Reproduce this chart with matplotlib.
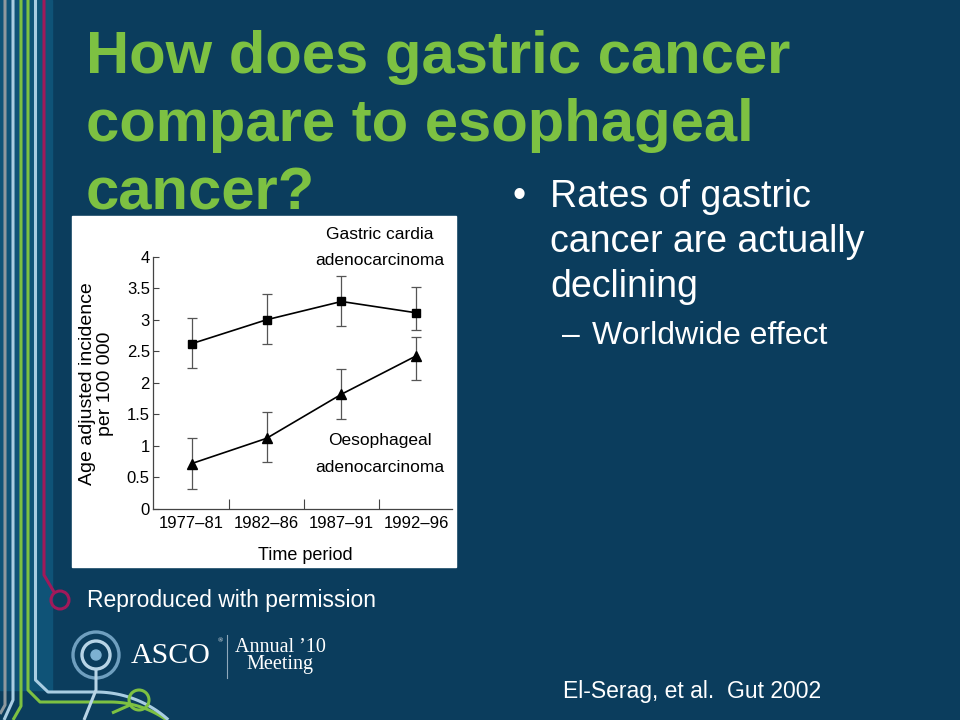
import numpy as np
import matplotlib
matplotlib.use("Agg")
import matplotlib.pyplot as plt
from matplotlib.patches import Rectangle, Circle

# data
periods = ["1977–81", "1982–86", "1987–91", "1992–96"]
gastric = [2.62, 3.00, 3.29, 3.11]
gastric_lo = [2.23, 2.61, 2.90, 2.83]
gastric_hi = [3.03, 3.41, 3.70, 3.52]
oeso = [0.72, 1.12, 1.82, 2.43]
oeso_lo = [0.32, 0.74, 1.43, 2.04]
oeso_hi = [1.12, 1.53, 2.22, 2.72]
y_ticks = [0, 0.5, 1, 1.5, 2, 2.5, 3, 3.5, 4]
y_tick_labels = ["0", "0.5", "1", "1.5", "2", "2.5", "3", "3.5", "4"]

W, H = 960, 720
BG = "#0b3d5d"
BAND = "#0f5377"
GREEN = "#7dc142"
LBLUE = "#a9cde2"
GRAY = "#8e989e"
MAGENTA = "#a0195a"

plt.rcParams["font.family"] = ["Liberation Sans", "DejaVu Sans"]

fig = plt.figure(figsize=(9.6, 7.2), dpi=100, facecolor=BG)
bg = fig.add_axes([0, 0, 1, 1])
bg.set_xlim(0, W)
bg.set_ylim(H, 0)
bg.axis("off")
bg.add_patch(Rectangle((0, 0), W, H, color=BG, zorder=0))
bg.add_patch(Rectangle((0, 0), 52, 690, color=BAND, zorder=0.5))

# left decoration
def path(pts, color, lw=2.2):
    pts = np.array(pts)
    bg.plot(pts[:, 0], pts[:, 1], color=color, lw=lw, solid_capstyle="butt", zorder=1)

def arc(cx, cy, r, a0, a1, n=30):
    t = np.radians(np.linspace(a0, a1, n))
    return list(zip(cx + r * np.cos(t), cy - r * np.sin(t)))

path([(5, 0), (5, 705), (0, 714)], GRAY)
path([(13, 0), (13, 700), (4, 720)], LBLUE)
path([(21, 0), (21, 706), (13, 720)], GREEN)
path([(28, 0), (28, 690), (40, 702)] + arc(110, 800, 98, 90, 55), GREEN)
path([(35.5, 0), (35.5, 680), (48, 692)] + arc(96, 800, 108, 90, 48), LBLUE)
path([(44, 0), (44, 575), (54, 592)], MAGENTA)
bg.add_patch(Circle((60, 600), 9, fill=False, ec=MAGENTA, lw=2.2, zorder=1))
path([(112, 713), (130, 705)], GREEN)
bg.add_patch(Circle((139, 700), 10, fill=False, ec=GREEN, lw=2.2, zorder=1))

# ASCO logo
bg.add_patch(Circle((96, 655), 23, fill=False, ec="#6f9fbf", lw=2.4, zorder=1))
bg.add_patch(Circle((96, 655), 14, fill=False, ec="#b7d4e6", lw=2.4, zorder=1))
bg.add_patch(Circle((96, 655), 5, color="#7db1d2", zorder=1))
path([(96, 669), (96, 690), (84, 720)], "#b7d4e6")
bg.text(131, 663, "ASCO", color="white", fontsize=21.5, family="Liberation Serif",
        va="baseline", ha="left")
bg.text(218, 642, "®", color="white", fontsize=5, family="Liberation Serif", va="baseline")
bg.plot([227, 227], [635, 678], color="#8fa9bb", lw=0.8)
bg.text(280, 656, "Annual \u201910\nMeeting", color="white", fontsize=14.5,
        family="Liberation Serif", ha="center", va="center", multialignment="center",
        linespacing=0.85)

# slide title
title_lines = ["How does gastric cancer", "compare to esophageal", "cancer?"]
for line, y in zip(title_lines, [73, 141, 209]):
    bg.text(86, y, line, color=GREEN, fontsize=43, fontweight="bold",
            va="baseline", ha="left")

# bullets
bg.text(513, 207, "\u2022", color="white", fontsize=27, va="baseline")
for line, y in zip(["Rates of gastric", "cancer are actually", "declining"], [207, 252, 297]):
    bg.text(550, y, line, color="white", fontsize=27, va="baseline")
bg.text(562, 344, "\u2013", color="white", fontsize=23, va="baseline")
bg.text(592, 344, "Worldwide effect", color="white", fontsize=23, va="baseline")

bg.text(87, 607, "Reproduced with permission", color="white", fontsize=16.5, va="baseline")
bg.text(563, 698, "El-Serag, et al.  Gut 2002", color="white", fontsize=16.5, va="baseline")

# embedded chart
bg.add_patch(Rectangle((72, 216), 384, 351, color="white", zorder=2))

def fx(px):
    return px / W

def fy(py):
    return 1 - py / H

ax = fig.add_axes([fx(153.3), fy(509), fx(451.7) - fx(153.3), fy(256.7) - fy(509)])
ax.set_facecolor("none")
x = np.arange(len(periods))

ax.errorbar(x, gastric, yerr=[np.subtract(gastric, gastric_lo), np.subtract(gastric_hi, gastric)],
            fmt="none", ecolor="#555555", elinewidth=0.9, capsize=3.5, capthick=0.9, zorder=2)
ax.errorbar(x, oeso, yerr=[np.subtract(oeso, oeso_lo), np.subtract(oeso_hi, oeso)],
            fmt="none", ecolor="#555555", elinewidth=0.9, capsize=3.5, capthick=0.9, zorder=2)
ax.plot(x, gastric, color="black", lw=1.2, marker="s", markersize=5.5, zorder=3)
ax.plot(x, oeso, color="black", lw=1.2, marker="^", markersize=6.5, zorder=3)

ax.set_xlim(-0.51, 3.47)
ax.set_ylim(0, 4)
for s in ["top", "right"]:
    ax.spines[s].set_visible(False)
for s in ["left", "bottom"]:
    ax.spines[s].set_color("#444444")
    ax.spines[s].set_linewidth(0.9)

ax.set_yticks(y_ticks)
ax.set_yticklabels(y_tick_labels)
ax.set_xticks(x)
ax.set_xticklabels(periods)
ax.set_xticks([0.5, 1.5, 2.5], minor=True)
ax.tick_params(axis="y", direction="in", length=4, width=0.8, color="#444444",
               labelsize=12, pad=2.5)
ax.tick_params(axis="x", which="major", length=0, labelsize=12, pad=5)
ax.tick_params(axis="x", which="minor", direction="in", length=7, width=0.8, color="#444444")

bg.text(305, 560, "Time period", fontsize=13, ha="center", va="baseline", zorder=3)
bg.text(87, 384, "Age adjusted incidence", fontsize=14, rotation=90,
        ha="center", va="center", zorder=3)
bg.text(105, 384, "per 100 000", fontsize=14, rotation=90,
        ha="center", va="center", zorder=3)
bg.text(380, 239, "Gastric cardia", fontsize=12.5, ha="center", va="baseline", zorder=3)
bg.text(380, 265, "adenocarcinoma", fontsize=12.5, ha="center", va="baseline", zorder=3)
bg.text(380, 445, "Oesophageal", fontsize=12.5, ha="center", va="baseline", zorder=3)
bg.text(380, 472, "adenocarcinoma", fontsize=12.5, ha="center", va="baseline", zorder=3)

fig.savefig("out.png", dpi=100, facecolor=BG)
